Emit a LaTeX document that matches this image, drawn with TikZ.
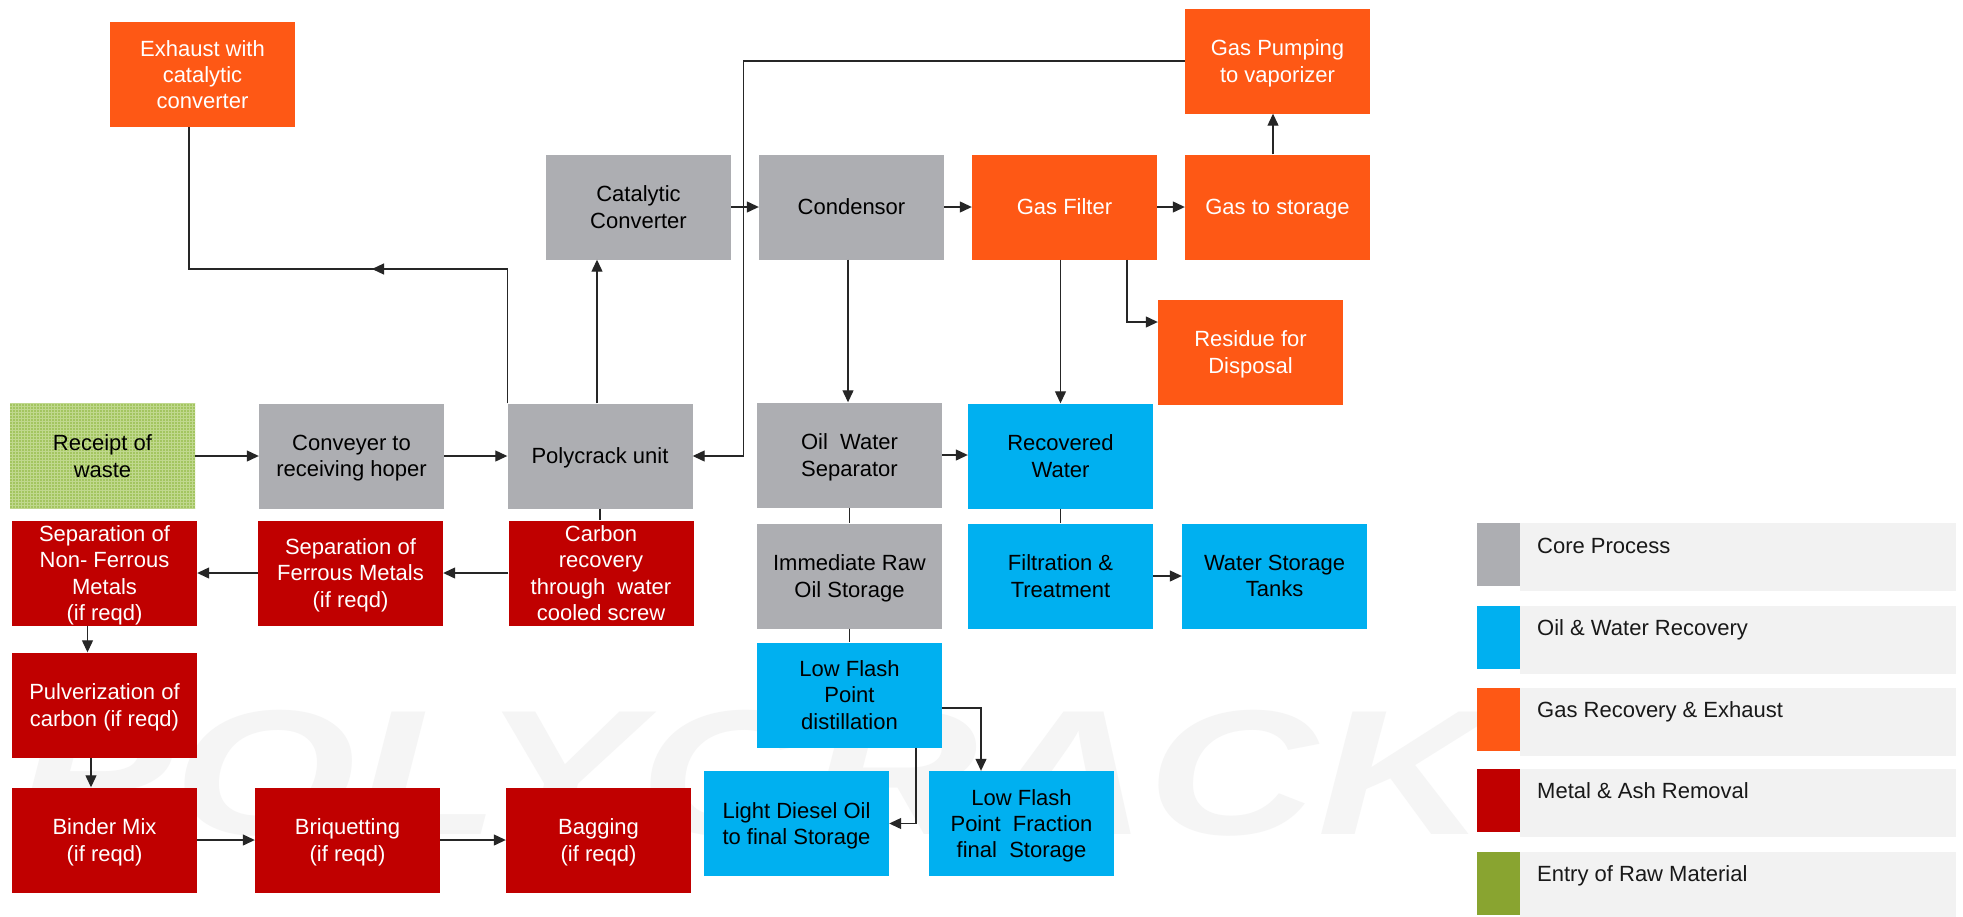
\documentclass[tikz,border=0pt]{standalone}
\usepackage{fontspec}
\setmainfont{Liberation Sans}
\usetikzlibrary{arrows.meta,patterns}
\definecolor{cgray}{RGB}{173,174,178}
\definecolor{cblue}{RGB}{0,176,240}
\definecolor{corange}{RGB}{254,88,21}
\definecolor{cred}{RGB}{192,0,0}
\definecolor{cgreen}{RGB}{137,164,48}
\definecolor{recgreen}{RGB}{163,197,96}
\definecolor{gridgreen}{RGB}{192,216,142}
\definecolor{legbar}{RGB}{242,242,242}
\definecolor{wmark}{RGB}{245,245,245}
\begin{document}
\begin{tikzpicture}[x=1pt,y=-1pt,
  box/.style={minimum width=185pt,minimum height=105pt,inner sep=0pt,align=center,
    font=\fontsize{22}{26.3}\selectfont,text depth=0pt},
  core/.style={box,fill=cgray,text=black},
  oil/.style={box,fill=cblue,text=black},
  gas/.style={box,fill=corange,text=white},
  metal/.style={box,fill=cred,text=white},
  entry/.style={box,fill=recgreen,text=black,postaction={pattern=grid,pattern color=gridgreen}},
  conn/.style={draw=black!85,line width=1.2pt},
  arr/.style={conn,-{Triangle[length=12pt,width=11pt]}},
  legsq/.style={inner sep=0pt,minimum width=43pt,minimum height=63pt,anchor=north west},
  legbarstyle/.style={inner sep=0pt,minimum width=436pt,minimum height=68pt,anchor=north west,fill=legbar},
  legtext/.style={anchor=base west,inner sep=0pt,font=\fontsize{22}{26.3}\selectfont,text=black!90}
]
\fill[white] (0,0) rectangle (1963,916);
\useasboundingbox (0,0) rectangle (1963,916);

% watermark
\node[text=wmark,font=\fontsize{178}{178}\selectfont\bfseries\itshape,anchor=base,inner sep=0pt] (wm) at (752,834) {\scalebox{1.32}[1]{POLYCRACK}};

% boxes
\node[gas]   (exhaust)    at (202.5,74.5) {Exhaust with\\catalytic\\converter};
\node[gas]   (gaspump)    at (1277.5,61)  {Gas Pumping\\to vaporizer};
\node[core]  (catconv)    at (638.5,207)  {Catalytic\\Converter};
\node[core]  (condensor)  at (851.5,207)  {Condensor};
\node[gas]   (gasfilter)  at (1064.5,207) {Gas Filter};
\node[gas]   (gasstore)   at (1277.5,207) {Gas to storage};
\node[gas]   (residue)    at (1250.5,352) {Residue for\\Disposal};
\node[entry] (receipt)    at (102.5,456)  {Receipt of\\waste};
\node[core]  (conveyer)   at (351.5,456)  {Conveyer to\\receiving hoper};
\node[core]  (polycrack)  at (600,456)    {Polycrack unit};
\node[core]  (separator)  at (849.5,455)  {Oil~~Water\\Separator};
\node[oil]   (recwater)   at (1060.5,456) {Recovered\\Water};
\node[metal] (nonferrous) at (104.5,573)  {Separation of\\Non- Ferrous\\Metals\\(if reqd)};
\node[metal] (ferrous)    at (350.5,573)  {Separation of\\Ferrous Metals\\(if reqd)};
\node[metal] (carbon)     at (601,573)    {Carbon\\recovery\\through~~water\\cooled screw};
\node[core]  (rawoil)     at (849.5,576)  {Immediate Raw\\Oil Storage};
\node[oil]   (filtration) at (1060.5,576) {Filtration \&\\Treatment};
\node[oil]   (waterstore) at (1274.5,576) {Water Storage\\Tanks};
\node[oil]   (lfdist)     at (849.5,695)  {Low Flash\\Point\\distillation};
\node[metal] (pulver)     at (104.5,705)  {Pulverization of\\carbon (if reqd)};
\node[oil]   (ldiesel)    at (796.5,823.5) {Light Diesel Oil\\to final Storage};
\node[oil]   (lffraction) at (1021.5,823.5) {Low Flash\\Point~~Fraction\\final~~Storage};
\node[metal] (binder)     at (104.5,840)  {Binder Mix\\(if reqd)};
\node[metal] (briquet)    at (347.5,840)  {Briquetting\\(if reqd)};
\node[metal] (bagging)    at (598.5,840)  {Bagging\\(if reqd)};

% connectors
\coordinate (exleft) at (189,269);
\coordinate (exarrow) at (372,269);
\draw[conn] (polycrack.north west) |- (exleft) -- (exleft |- exhaust.south);
\draw[arr] (polycrack.north west |- exleft) -- (exarrow);

\draw[arr] (receipt.east) -- (conveyer.west);
\draw[arr] (conveyer.east) -- (polycrack.west);
\draw[arr] ([xshift=-3pt]polycrack.north) -- ([xshift=-3pt]polycrack.north |- catconv.south);
\draw[arr] (catconv.east) -- (condensor.west);
\draw[arr] (condensor.east) -- (gasfilter.west);
\draw[arr] (gasfilter.east) -- (gasstore.west);
\draw[arr] ([xshift=-4.5pt]gasstore.north) -- ([xshift=-4.5pt]gasstore.north |- gaspump.south);
\draw[arr] (gaspump.west) -| ([xshift=51pt]polycrack.east) -- (polycrack.east);
\draw[arr] ([xshift=-3.5pt]condensor.south) -- ([xshift=-3.5pt]condensor.south |- separator.north);
\draw[arr] (gasfilter.south -| recwater.north) -- (recwater.north);
\draw[arr] ([xshift=62.5pt]gasfilter.south) |- ([yshift=30pt]residue.west);
\draw[arr] (separator.east) -- (separator.east -| recwater.west);
\draw[conn] (polycrack.south) -- (polycrack.south |- carbon.north);
\draw[arr] (carbon.west) -- (ferrous.east);
\draw[arr] (ferrous.west) -- (nonferrous.east);
\draw[arr] ([xshift=-17pt]nonferrous.south) -- ([xshift=-17pt]nonferrous.south |- pulver.north);
\draw[arr] ([xshift=-13.5pt]pulver.south) -- ([xshift=-13.5pt]pulver.south |- binder.north);
\draw[arr] (binder.east) -- (briquet.west);
\draw[arr] (briquet.east) -- (bagging.west);
\draw[conn] (separator.south) -- (separator.south |- rawoil.north);
\draw[conn] (rawoil.south) -- (rawoil.south |- lfdist.north);
\draw[conn] (recwater.south) -- (recwater.south |- filtration.north);
\draw[arr] (filtration.east) -- (waterstore.west);
\draw[arr] ([yshift=-13pt]lfdist.east) -| ([xshift=-40.5pt]lffraction.north);
\draw[arr] ([xshift=66.5pt]lfdist.south) |- (ldiesel.east);

% legend
\node[legbarstyle] (lb1) at (1520,523) {};
\node[legbarstyle] (lb2) at (1520,606) {};
\node[legbarstyle] (lb3) at (1520,688) {};
\node[legbarstyle] (lb4) at (1520,769) {};
\node[legbarstyle] (lb5) at (1520,852) {};
\node[legsq,fill=cgray]   (ls1) at (1477,523) {};
\node[legsq,fill=cblue]   (ls2) at (1477,606) {};
\node[legsq,fill=corange] (ls3) at (1477,688) {};
\node[legsq,fill=cred]    (ls4) at (1477,769) {};
\node[legsq,fill=cgreen]  (ls5) at (1477,852) {};
\node[legtext] (lt1) at (1537,553) {Core Process};
\node[legtext] (lt2) at (1537,635) {Oil \& Water Recovery};
\node[legtext] (lt3) at (1537,717) {Gas Recovery \& Exhaust};
\node[legtext] (lt4) at (1537,798.5) {Metal \& Ash Removal};
\node[legtext] (lt5) at (1537,881) {Entry of Raw Material};
\end{tikzpicture}
\end{document}
